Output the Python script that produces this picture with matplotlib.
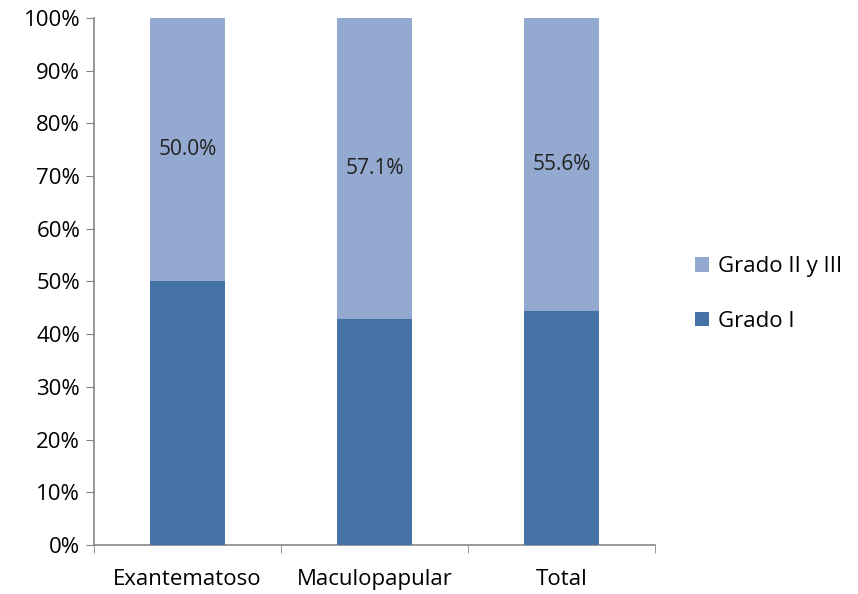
import numpy as np
import matplotlib
matplotlib.use("Agg")
import matplotlib.pyplot as plt
from matplotlib.ticker import PercentFormatter, FixedLocator

categories = ["Exantematoso", "Maculopapular", "Total"]
grado_i = [50.0, 42.9, 44.4]
grado_ii_iii = [50.0, 57.1, 55.6]

DARK = "#4572A7"
LIGHT = "#93A9CF"
AXIS = "#868686"
FS = 16

plt.rcParams["font.family"] = ["Open Sans", "DejaVu Sans"]

fig = plt.figure(figsize=(8.58, 5.94), dpi=100)
ax = fig.add_axes([0.1096, 0.0825, 0.654, 0.8875])

x = np.arange(len(categories))
w = 0.4
b1 = ax.bar(x, grado_i, w, color=DARK, label="Grado I", zorder=3)
b2 = ax.bar(x, grado_ii_iii, w, bottom=grado_i, color=LIGHT, label="Grado II y III", zorder=3)

for xi, lo, v in zip(x, grado_i, grado_ii_iii):
    ax.text(xi, lo + v / 2, f"{v:.1f}%", ha="center", va="center", fontsize=FS - 1, color="#222222")

ax.set_xlim(-0.5, len(categories) - 0.5)
ax.set_ylim(0, 100)
ax.set_yticks(np.arange(0, 101, 10))
ax.yaxis.set_major_formatter(PercentFormatter(decimals=0))
ax.set_xticks(x)
ax.set_xticklabels(categories, fontsize=FS)
ax.xaxis.set_minor_locator(FixedLocator(np.arange(-0.5, len(categories), 1.0)))
ax.tick_params(axis="x", which="major", length=0, pad=17)
ax.tick_params(axis="x", which="minor", length=6, color=AXIS, direction="out")
ax.tick_params(axis="y", length=6, color=AXIS, direction="out", labelsize=FS, pad=4)

for s in ["top", "right"]:
    ax.spines[s].set_visible(False)
for s in ["left", "bottom"]:
    ax.spines[s].set_color(AXIS)
    ax.spines[s].set_linewidth(1.2)

handles = [b2, b1]
fig.legend(handles, ["Grado II y III", "Grado I"], loc="center left",
           bbox_to_anchor=(0.80, 0.505), frameon=False, fontsize=FS,
           handlelength=0.6, handleheight=0.6, handletextpad=0.4, labelspacing=1.5,
           borderaxespad=0)

fig.savefig("out.png", dpi=100)
